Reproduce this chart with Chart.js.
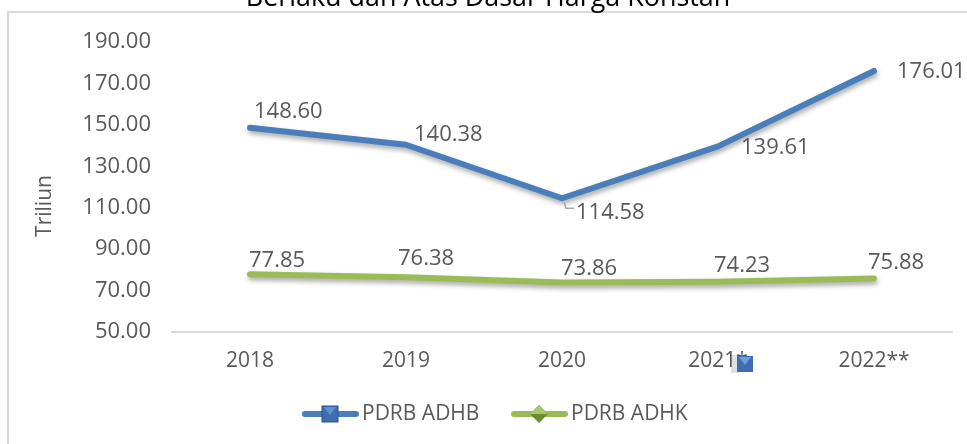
<!DOCTYPE html>
<html><head><meta charset="utf-8">
<script src="https://cdn.jsdelivr.net/npm/chart.js@4.4.0/dist/chart.umd.min.js"></script>
<style>html,body{margin:0;padding:0;background:#fff;}#wrap{position:relative;width:967px;height:444px;}canvas{display:block;}</style>
</head><body><div id="wrap"><canvas id="c" width="967" height="444"></canvas></div>
<script>
const categories = ['2018','2019','2020','2021*','2022**'];
const adhb = [148.60, 140.38, 114.58, 139.61, 176.01];
const adhk = [77.85, 76.38, 73.86, 74.23, 75.88];
const seriesNames = ['PDRB ADHB','PDRB ADHK'];
const titleText = 'Berlaku dan Atas Dasar Harga Konstan';
const yTitle = 'Triliun';
const yMin = 50, yMax = 190, yStep = 20;

const BLUE = '#4A7EBB', GREEN = '#9BBB59', TXT = '#595959';
const FONT = '"Open Sans", sans-serif';

// label offsets (dx, dy from point, left-aligned text, middle baseline)
const labelOffsets = [
  [[4,-16],[8,-10],[14,15],[23,1],[23,1]],
  [[-1,-14],[-8,-19],[-1,-14],[-4,-16],[-6,-16]]
];

const decor = {
  id:'decor',
  beforeDraw(chart){
    const ctx = chart.ctx;
    ctx.save();
    ctx.strokeStyle = '#d9d9d9'; ctx.lineWidth = 2;
    ctx.beginPath(); ctx.moveTo(8,445); ctx.lineTo(8,12); ctx.lineTo(967,12); ctx.stroke();
    ctx.fillStyle = '#000';
    ctx.font = '20px ' + FONT;
    const w = ctx.measureText(titleText).width;
    ctx.font = (20*485/w).toFixed(1) + 'px ' + FONT;
    ctx.textAlign = 'center'; ctx.textBaseline = 'alphabetic';
    ctx.fillText(titleText, 488, 6);
    // y axis title
    ctx.save();
    ctx.translate(45, 206); ctx.rotate(-Math.PI/2);
    ctx.fillStyle = TXT; ctx.font = '21px ' + FONT; ctx.textAlign='center'; ctx.textBaseline='middle';
    ctx.fillText(yTitle, 0, 0);
    ctx.restore();
    ctx.restore();
  },
  beforeDatasetsDraw(chart){
    const ctx = chart.ctx;
    ctx.save();
    ctx.shadowColor = 'rgba(0,0,0,0.35)';
    ctx.shadowBlur = 5; ctx.shadowOffsetX = 1; ctx.shadowOffsetY = 3;
  },
  afterDatasetsDraw(chart){
    const ctx = chart.ctx;
    ctx.restore();
    ctx.save();
    ctx.font = '22px ' + FONT;
    ctx.fillStyle = TXT; ctx.textAlign = 'left'; ctx.textBaseline = 'middle';
    chart.data.datasets.forEach((ds, di) => {
      const meta = chart.getDatasetMeta(di);
      meta.data.forEach((pt, i) => {
        const o = labelOffsets[di][i];
        ctx.fillText(ds.data[i].toFixed(2), pt.x + o[0], pt.y + o[1]);
      });
    });
    // leader line for 2020 ADHB label
    const p = chart.getDatasetMeta(0).data[2];
    ctx.strokeStyle = '#a6a6a6'; ctx.lineWidth = 1.5;
    ctx.beginPath(); ctx.moveTo(p.x+2, p.y+4); ctx.lineTo(p.x+4, p.y+10); ctx.lineTo(p.x+12, p.y+10); ctx.stroke();
    // legend
    const ly = 414;
    const items = [{x:302, color:BLUE, shape:'sq', name:seriesNames[0]},{x:511, color:GREEN, shape:'di', name:seriesNames[1]}];
    items.forEach(it => {
      ctx.strokeStyle = it.color; ctx.lineWidth = 6; ctx.lineCap = 'round';
      ctx.beginPath(); ctx.moveTo(it.x+3, ly); ctx.lineTo(it.x+54, ly); ctx.stroke();
      const cx = it.x+28;
      if (it.shape === 'sq') {
        ctx.fillStyle = '#3D6EAF'; ctx.fillRect(cx-8, ly-8, 16, 16);
        ctx.strokeStyle = '#2C5286'; ctx.lineWidth = 1; ctx.strokeRect(cx-8, ly-8, 16, 16);
        ctx.fillStyle = '#5B92D6';
        ctx.beginPath(); ctx.moveTo(cx-6, ly-7); ctx.lineTo(cx+6, ly-7); ctx.lineTo(cx, ly+1); ctx.closePath(); ctx.fill();
      } else {
        ctx.fillStyle = '#6F8B30';
        ctx.beginPath(); ctx.moveTo(cx, ly-9); ctx.lineTo(cx+9, ly); ctx.lineTo(cx, ly+9); ctx.lineTo(cx-9, ly); ctx.closePath(); ctx.fill();
        ctx.fillStyle = '#A9C96A';
        ctx.beginPath(); ctx.moveTo(cx, ly-9); ctx.lineTo(cx+9, ly); ctx.lineTo(cx-9, ly); ctx.closePath(); ctx.fill();
      }
      ctx.fillStyle = TXT; ctx.font = '21px ' + FONT;
      ctx.fillText(it.name, it.x+60, ly);
    });
    // stray marker artifact near the 2021* label
    const xs = chart.scales.x;
    const ax = xs.getPixelForValue(3) + 19, ay = 364;
    ctx.fillStyle = 'rgba(0,0,0,0.12)'; ctx.fillRect(ax-6, ay-9, 8, 18);
    ctx.fillStyle = '#3D6EAF'; ctx.fillRect(ax, ay-8, 16, 16);
    ctx.fillStyle = '#6FA0DC';
    ctx.beginPath(); ctx.moveTo(ax+2, ay-7); ctx.lineTo(ax+14, ay-7); ctx.lineTo(ax+8, ay+1); ctx.closePath(); ctx.fill();
    ctx.restore();
  }
};

new Chart(document.getElementById('c'), {
  type:'line',
  data:{
    labels: categories,
    datasets:[
      {label:seriesNames[0], data:adhb, borderColor:BLUE, borderWidth:6, pointRadius:0, tension:0, borderCapStyle:'round', borderJoinStyle:'round'},
      {label:seriesNames[1], data:adhk, borderColor:GREEN, borderWidth:6, pointRadius:0, tension:0, borderCapStyle:'round', borderJoinStyle:'round'}
    ]
  },
  options:{
    responsive:false, animation:false, events:[],
    layout:{padding:{left:30, top:42, right:15, bottom:0}},
    plugins:{legend:{display:false}, tooltip:{enabled:false}, title:{display:false}},
    scales:{
      x:{
        offset:true,
        grid:{display:false, drawTicks:false},
        border:{display:true, color:'#d9d9d9', width:2},
        ticks:{color:TXT, font:{family:FONT, size:21}, padding:16, maxRotation:0},
        afterFit(s){ s.height = 112; }
      },
      y:{
        min:yMin, max:yMax,
        grid:{display:false, drawTicks:false},
        border:{display:false},
        ticks:{stepSize:yStep, color:TXT, font:{family:FONT, size:22}, padding:21, callback:v=>v.toFixed(2)},
        afterFit(s){ s.width = 142; }
      }
    }
  },
  plugins:[decor]
});
</script></body></html>
